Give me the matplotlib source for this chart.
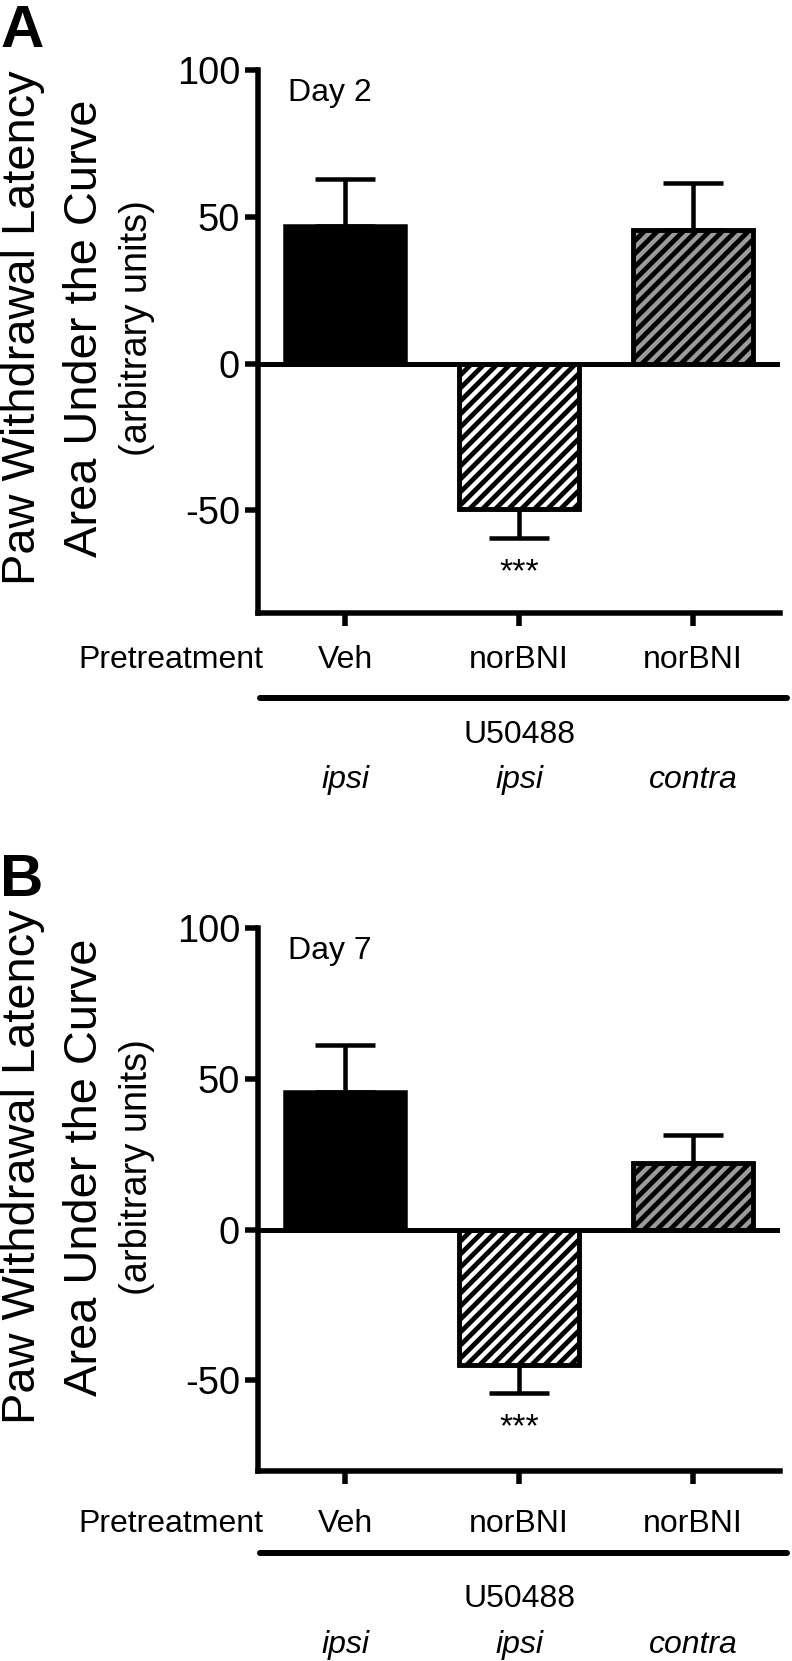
import matplotlib
matplotlib.use('Agg')
import numpy as np
import matplotlib.pyplot as plt
from matplotlib import transforms
from matplotlib.lines import Line2D

# values (area under the curve, mean and SEM)
groups = ['Veh', 'norBNI', 'norBNI']
sides = ['ipsi', 'ipsi', 'contra']
day2_mean = [46.9, -49.5, 45.6]
day2_sem = [16.0, 10.0, 16.0]
day7_mean = [45.7, -44.7, 22.2]
day7_sem = [15.6, 9.6, 9.3]
yticks = [-50, 0, 50, 100]

W, H, DPI = 792, 1661, 78


def pt(p):
    # pixels -> points at this dpi
    return p * 72.0 / DPI


plt.rcParams['font.family'] = ['Liberation Sans', 'DejaVu Sans']

fig = plt.figure(figsize=(W / DPI, H / DPI), dpi=DPI)


def stripe(ax, patch, step=13, lw=4.8):
    # diagonal black stripes clipped to the bar
    bb = patch.get_window_extent()
    h = bb.height
    for x0 in np.arange(bb.x0 - h - step, bb.x1 + step, step):
        ln = Line2D([x0, x0 + h + 2 * step], [bb.y0 - step, bb.y1 + step],
                    color='black', lw=pt(lw), transform=transforms.IdentityTransform(),
                    zorder=2.5)
        ax.add_artist(ln)
        ln.set_clip_path(patch.get_path(), patch.get_transform())


def panel(letter, day, means, sems, top, bottom, ylo, rows, label_mid, letter_base):
    ax = fig.add_axes([258 / W, 1 - bottom / H, (780 - 258) / W, (bottom - top) / H])
    x = list(range(len(means)))
    ax.set_xlim(-0.5, 2.5)
    ax.set_ylim(ylo, 100)

    lower = [s if m < 0 else 0 for m, s in zip(means, sems)]
    upper = [s if m >= 0 else 0 for m, s in zip(means, sems)]
    ax.errorbar(x, means, yerr=[lower, upper], fmt='none', ecolor='black',
                elinewidth=pt(4.5), capsize=pt(30), capthick=pt(4.5), zorder=1)
    bars = ax.bar(x, means, width=0.69, color=['black', 'white', '#9b9b9b'],
                  edgecolor='black', linewidth=pt(4.5), zorder=2)
    for b in bars[1:]:
        stripe(ax, b)
        # redraw the outline over the stripes
        ax.bar(b.get_x() + b.get_width() / 2, b.get_height(), width=b.get_width(),
               fill=False, edgecolor='black', linewidth=pt(4.5), zorder=2.8)
    ax.axhline(0, color='black', lw=pt(5), zorder=3)

    ax.set_yticks(yticks)
    ax.set_yticklabels([str(t) for t in yticks])
    ax.set_xticks(x)
    ax.set_xticklabels([])
    for s in ['top', 'right']:
        ax.spines[s].set_visible(False)
    for s in ['left', 'bottom']:
        ax.spines[s].set_linewidth(pt(5.5))
    ax.tick_params(length=pt(13), width=pt(5.5), pad=pt(5), labelsize=pt(38))

    # significance stars under the norBNI ipsi bar
    ax.annotate('***', xy=(1, means[1] - sems[1]), xytext=(0, -pt(43)),
                textcoords='offset points', ha='center', va='baseline',
                fontsize=pt(34))

    ax.text(288 / W, 1 - (top + 31) / H, day, transform=fig.transFigure,
            fontsize=pt(32), va='baseline', ha='left')
    fig.text(0, 1 - letter_base / H, letter, fontsize=pt(60), fontweight='bold',
             va='baseline', ha='left')

    # y label, three centred lines
    for bx, txt, fs in [(35, 'Paw Withdrawal Latency', 47),
                        (97, 'Area Under the Curve', 47),
                        (147, '(arbitrary units)', 38)]:
        fig.text(bx / W, 1 - label_mid / H, txt, rotation=90, rotation_mode='anchor',
                 ha='center', va='baseline', fontsize=pt(fs))

    tr = transforms.blended_transform_factory(ax.transData, fig.transFigure)
    r_lab, r_line, r_drug, r_side = rows
    fig.text(263 / W, 1 - r_lab / H, 'Pretreatment', ha='right', va='baseline',
             fontsize=pt(32))
    for xi, g, sd in zip(x, groups, sides):
        ax.text(xi, 1 - r_lab / H, g, transform=tr, ha='center', va='baseline',
                fontsize=pt(32))
        ax.text(xi, 1 - r_side / H, sd, transform=tr, ha='center', va='baseline',
                fontsize=pt(32), style='italic')
    ax.text(1, 1 - r_drug / H, 'U50488', transform=tr, ha='center', va='baseline',
            fontsize=pt(32))
    fig.add_artist(Line2D([260 / W, 787 / W], [1 - r_line / H, 1 - r_line / H],
                          color='black', lw=pt(6), solid_capstyle='round'))
    return ax


panel('A', 'Day 2', day2_mean, day2_sem, 70, 613, -85,
      (668, 698, 743, 788), 328, 47)
panel('B', 'Day 7', day7_mean, day7_sem, 928, 1471, -80,
      (1532, 1553, 1607, 1653), 1167, 896)

fig.savefig('out.png', dpi=DPI)
